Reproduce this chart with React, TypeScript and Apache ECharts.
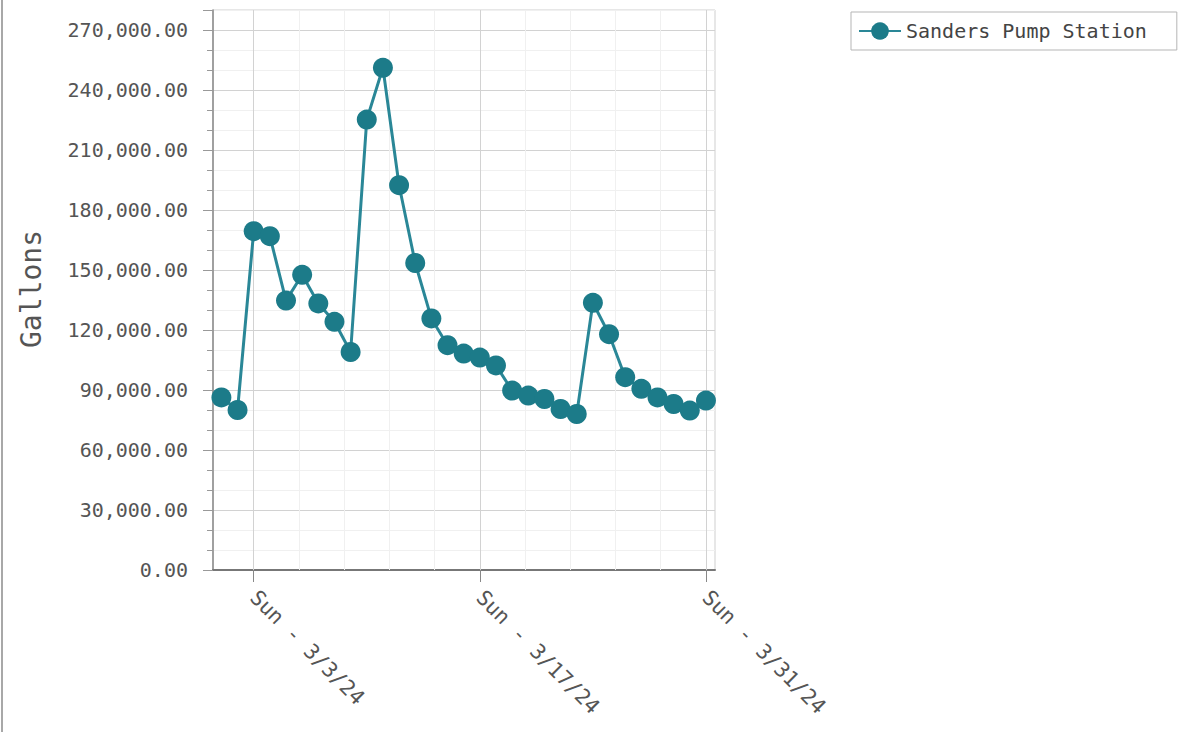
import React, { useEffect, useRef } from 'react';
import * as echarts from 'echarts';

const seriesName = 'Sanders Pump Station';
const yAxisTitle = 'Gallons';

const dates = [
  '2024-03-01', '2024-03-02', '2024-03-03', '2024-03-04', '2024-03-05', '2024-03-06', '2024-03-07',
  '2024-03-08', '2024-03-09', '2024-03-10', '2024-03-11', '2024-03-12', '2024-03-13', '2024-03-14',
  '2024-03-15', '2024-03-16', '2024-03-17', '2024-03-18', '2024-03-19', '2024-03-20', '2024-03-21',
  '2024-03-22', '2024-03-23', '2024-03-24', '2024-03-25', '2024-03-26', '2024-03-27', '2024-03-28',
  '2024-03-29', '2024-03-30', '2024-03-31',
];

const gallons = [
  86300, 80000, 169400, 166900, 134700, 147600, 133300,
  124100, 109000, 225200, 251100, 192400, 153500, 125800,
  112400, 108200, 106200, 102300, 89700, 87200, 85500,
  80500, 78000, 133600, 117900, 96400, 90600, 86300,
  83000, 79700, 84700,
];

const xTickDates = ['2024-03-03', '2024-03-17', '2024-03-31'];
const xTickLabels = ['Sun - 3/3/24', 'Sun - 3/17/24', 'Sun - 3/31/24'];
const xMinorDays = [2.8, 5.6, 8.4, 11.2, 16.8, 19.6, 22.4, 25.2];

const yMin = 0;
const yMax = 280000;
const yMinorStep = 10000;
const yLabelStep = 30000;
const yLabelTop = 270000;

const MONO = '"DejaVu Sans Mono", "Liberation Mono", monospace';
const DAY = 86400000;
const baseDate = xTickDates[0];
const dayOffset = (d: string) =>
  (Date.parse(d + 'T00:00:00Z') - Date.parse(baseDate + 'T00:00:00Z')) / DAY;

export default function App() {
  const ref = useRef<HTMLDivElement>(null);

  useEffect(() => {
    if (!ref.current) return;
    const chart = echarts.init(ref.current, undefined, { renderer: 'svg' });

    const points = dates.map((d, i) => [dayOffset(d), gallons[i]]);
    const majorX = xTickDates.map(dayOffset);
    const fmt = (v: number) =>
      v.toLocaleString('en-US', { minimumFractionDigits: 2, maximumFractionDigits: 2 });

    const option: any = {
      animation: false,
      backgroundColor: '#ffffff',
      grid: {
        left: 213,
        top: 10,
        right: 465,
        bottom: 162,
        show: true,
        borderColor: '#cfcfcf',
        borderWidth: 1,
        backgroundColor: 'transparent',
      },
      legend: {
        data: [seriesName],
        left: 851,
        top: 12,
        orient: 'horizontal',
        borderColor: '#b5b5b5',
        borderWidth: 1,
        padding: [9, 30, 9, 7],
        itemWidth: 42,
        itemHeight: 22,
        textStyle: { fontFamily: MONO, fontSize: 20, color: '#444' },
      },
      xAxis: {
        type: 'value',
        min: -2.52,
        max: 28.56,
        axisLine: { show: true, onZero: false, lineStyle: { color: '#777', width: 2 } },
        axisTick: {
          show: true,
          length: 12,
          customValues: majorX,
          lineStyle: { color: '#888' },
        },
        axisLabel: {
          customValues: majorX,
          rotate: -45,
          margin: 24,
          fontFamily: MONO,
          fontSize: 21,
          color: '#555',
          formatter: (v: number) => {
            const idx = majorX.findIndex((m) => Math.abs(m - v) < 1e-6);
            return idx >= 0 ? xTickLabels[idx] : '';
          },
        },
        splitLine: { show: false },
      },
      yAxis: [
        {
          type: 'value',
          min: yMin,
          max: yMax,
          interval: yMinorStep,
          axisLine: { show: true, onZero: false, lineStyle: { color: '#888', width: 1.5 } },
          axisTick: { show: true, length: 6, lineStyle: { color: '#999' } },
          axisLabel: {
            margin: 25,
            fontFamily: MONO,
            fontSize: 20,
            color: '#555',
            formatter: (v: number) =>
              v % yLabelStep === 0 && v <= yLabelTop ? fmt(v) : '',
          },
          splitLine: {
            show: true,
            lineStyle: { color: ['#d2d2d2', '#f0f0f0', '#f0f0f0'], width: 1 },
          },
        },
        {
          type: 'value',
          min: yMin,
          max: yMax,
          interval: yLabelStep,
          position: 'left',
          axisLine: { show: false, onZero: false },
          axisTick: { show: true, length: 10, lineStyle: { color: '#999' } },
          axisLabel: { show: false },
          splitLine: { show: false },
        },
      ],
      graphic: [
        {
          type: 'text',
          x: 31,
          y: 289,
          rotation: Math.PI / 2,
          style: {
            text: yAxisTitle,
            fontFamily: MONO,
            fontSize: 28,
            fill: '#555',
            align: 'center',
            verticalAlign: 'middle',
          },
        },
        {
          type: 'line',
          shape: { x1: 2, y1: 0, x2: 2, y2: 732 },
          style: { stroke: '#a8a8a8', lineWidth: 2 },
        },
      ],
      series: [
        {
          name: 'gridX',
          type: 'line',
          data: [],
          z: 1,
          silent: true,
          markLine: {
            silent: true,
            symbol: ['none', 'none'],
            label: { show: false },
            data: [
              ...xMinorDays.map((v) => ({ xAxis: v, lineStyle: { color: '#f0f0f0', width: 1, type: 'solid' } })),
              ...majorX.map((v) => ({ xAxis: v, lineStyle: { color: '#d2d2d2', width: 1, type: 'solid' } })),
            ],
          },
        },
        {
          name: seriesName,
          type: 'line',
          data: points,
          z: 5,
          symbol: 'circle',
          symbolSize: 20,
          lineStyle: { color: '#2a8797', width: 3 },
          itemStyle: { color: '#1c7b89' },
        },
      ],
    };

    chart.setOption(option);
    return () => chart.dispose();
  }, []);

  return (
    <div
      ref={ref}
      style={{ position: 'absolute', left: 0, top: 0, width: 1180, height: 732 }}
    />
  );
}
